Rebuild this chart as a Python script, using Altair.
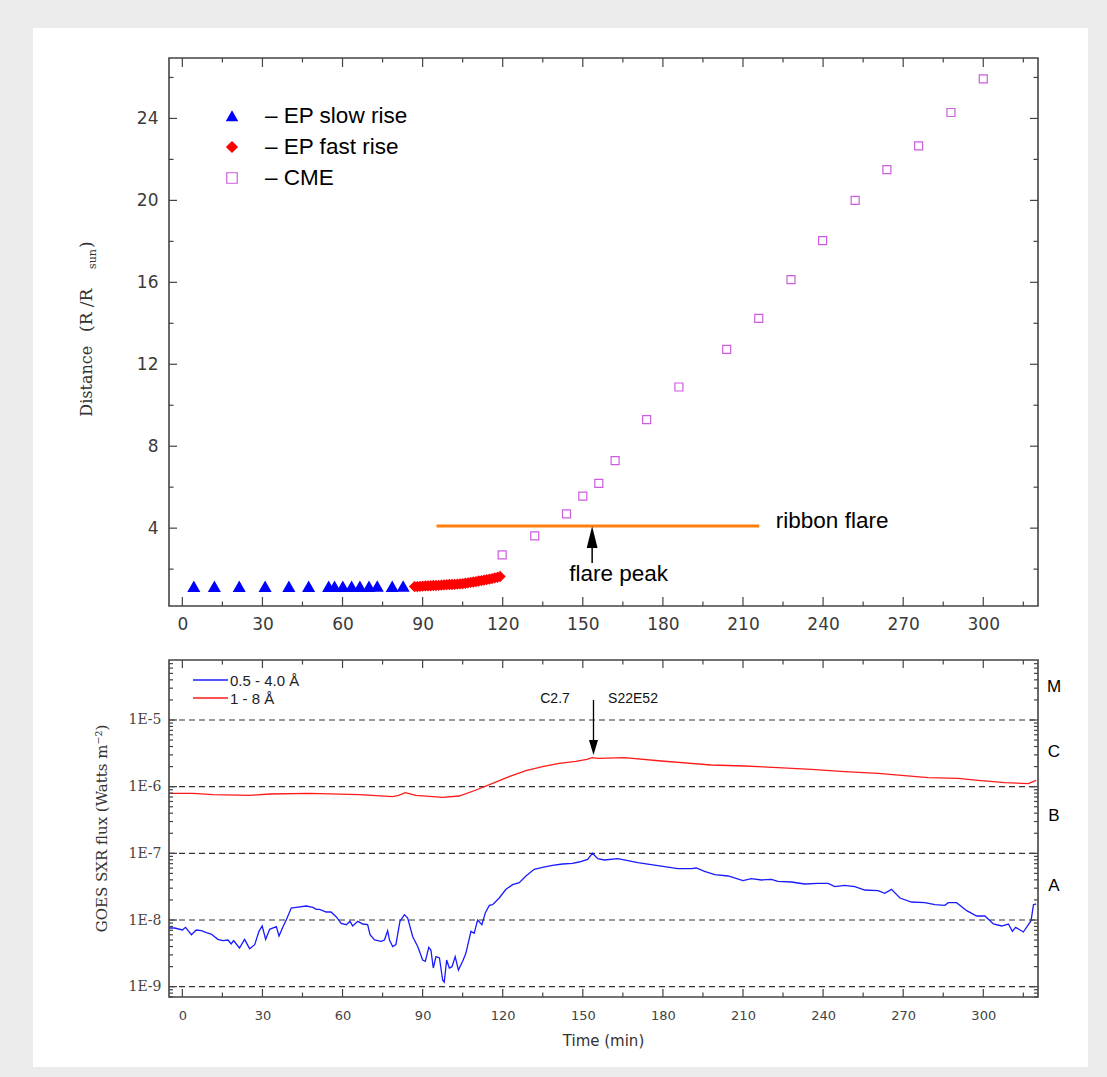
import altair as alt
import pandas as pd

# ---------------- Top panel values (time in min, distance in R/Rsun) ----------------
SERIES = ["EP slow rise", "EP fast rise", "CME"]
SLOW_T = [4.3, 12.0, 21.3, 31.0, 39.9, 47.3, 54.8, 57.0, 60.1, 63.4, 66.5, 69.9, 73.0, 78.6, 82.7]
SLOW_D = [1.15, 1.15, 1.15, 1.15, 1.15, 1.15, 1.15, 1.15, 1.15, 1.15, 1.15, 1.15, 1.16, 1.15, 1.16]
FAST_T = [87, 88, 89, 90, 91, 92, 93, 94, 95, 96, 97, 98, 99, 100, 101, 102, 103, 104, 105,
          106, 107, 108, 109, 110, 111, 112, 113, 114, 115, 116, 117, 118, 119]
FAST_D = [1.15, 1.15, 1.16, 1.17, 1.18, 1.18, 1.19, 1.20, 1.20, 1.21, 1.22, 1.23, 1.24, 1.25,
          1.25, 1.26, 1.27, 1.28, 1.29, 1.31, 1.33, 1.35, 1.37, 1.39, 1.42, 1.44, 1.46, 1.49,
          1.51, 1.54, 1.57, 1.60, 1.64]
CME_T = [119.8, 132.0, 143.9, 150.0, 156.0, 162.1, 173.9, 186.0, 203.9, 215.9, 228.0, 239.8,
         252.0, 263.9, 275.8, 287.9, 300.0]
CME_D = [2.70, 3.62, 4.70, 5.56, 6.19, 7.30, 9.30, 10.89, 12.73, 14.24, 16.13, 18.04, 20.00,
         21.50, 22.66, 24.29, 25.93]
RIBBON = {"t1": [95.2], "t2": [216.1], "d": [4.1]}
PEAK_T = 153.5
PEAK_SHAFT = [2.3, 3.04]
PEAK_HEAD = 3.56
TOP_TEXT = {"label": ["ribbon flare", "flare peak"], "t": [222.3, 163.4], "d": [4.0, 1.40],
            "align": ["left", "center"]}

# ---------------- Bottom panel values (time, log10 flux) ----------------
BLUE = [(-5.0, -8.12), (-2.9, -8.12), (0.0, -8.15), (1.2, -8.11), (3.4, -8.22), (5.2, -8.15),
        (7.1, -8.16), (9.0, -8.19), (10.8, -8.21), (13.3, -8.29), (15.2, -8.31), (17.1, -8.30),
        (18.3, -8.36), (19.2, -8.31), (21.4, -8.42), (23.3, -8.29), (25.2, -8.43), (27.1, -8.37),
        (28.7, -8.17), (29.9, -8.09), (31.2, -8.29), (32.7, -8.14), (35.2, -8.10), (36.2, -8.24),
        (37.7, -8.10), (38.9, -8.00), (40.8, -7.82), (42.6, -7.81), (46.4, -7.79), (48.9, -7.81),
        (50.1, -7.84), (51.4, -7.84), (53.9, -7.88), (55.7, -7.88), (57.6, -7.95), (59.5, -8.05),
        (61.4, -8.07), (62.8, -8.02), (63.8, -8.09), (65.7, -8.02), (67.6, -8.06), (69.4, -8.07),
        (70.3, -8.22), (72.0, -8.30), (74.4, -8.32), (75.7, -8.30), (76.9, -8.16), (77.6, -8.30),
        (78.8, -8.40), (80.0, -8.37), (81.5, -8.02), (83.2, -7.92), (84.4, -7.97), (86.3, -8.25),
        (88.2, -8.40), (90.0, -8.60), (91.0, -8.62), (92.3, -8.41), (93.1, -8.45), (94.0, -8.72),
        (95.0, -8.55), (96.3, -8.57), (97.5, -8.90), (98.1, -8.93), (99.0, -8.60), (100.0, -8.72),
        (101.0, -8.70), (102.2, -8.55), (103.4, -8.75), (105.0, -8.62), (106.2, -8.50),
        (108.1, -8.17), (109.3, -8.20), (110.6, -8.00), (112.2, -8.07), (113.5, -7.89),
        (115.0, -7.78), (116.2, -7.77), (118.7, -7.67), (121.2, -7.54), (123.7, -7.47),
        (126.2, -7.44), (128.7, -7.34), (131.8, -7.24), (134.9, -7.21), (138.6, -7.18),
        (142.4, -7.16), (146.1, -7.15), (148.6, -7.13), (151.8, -7.09), (153.6, -7.00),
        (155.6, -7.08), (158.1, -7.10), (163.1, -7.08), (166.9, -7.11), (170.6, -7.14),
        (175.6, -7.17), (180.6, -7.20), (185.6, -7.23), (190.6, -7.23), (192.5, -7.22),
        (195.6, -7.27), (199.4, -7.32), (204.4, -7.34), (210.0, -7.41), (213.1, -7.38),
        (216.9, -7.40), (220.6, -7.39), (223.1, -7.42), (228.1, -7.43), (233.1, -7.46),
        (238.1, -7.45), (241.9, -7.45), (244.4, -7.50), (248.1, -7.48), (251.9, -7.50),
        (255.6, -7.55), (260.6, -7.56), (263.1, -7.60), (265.6, -7.54), (268.8, -7.67),
        (273.1, -7.73), (278.1, -7.74), (281.9, -7.77), (285.6, -7.78), (286.9, -7.74),
        (290.0, -7.74), (293.8, -7.86), (297.5, -7.94), (300.6, -7.94), (303.8, -8.06),
        (306.9, -8.09), (309.4, -8.06), (310.9, -8.17), (312.1, -8.11), (315.0, -8.18),
        (316.9, -8.07), (317.9, -8.01), (318.8, -7.77), (319.8, -7.76)]
RED = [(-5.0, -6.10), (4.0, -6.10), (11.5, -6.12), (25.2, -6.13), (32.7, -6.11), (47.6, -6.10),
       (66.3, -6.12), (78.8, -6.15), (81.0, -6.13), (83.5, -6.09), (87.5, -6.13), (97.5, -6.16),
       (103.7, -6.14), (110.0, -6.05), (116.2, -5.95), (122.4, -5.85), (128.7, -5.76),
       (134.9, -5.70), (141.1, -5.65), (147.4, -5.62), (151.5, -5.59), (153.6, -5.565),
       (155.6, -5.575), (165.6, -5.565), (179.4, -5.615), (198.1, -5.675), (210.6, -5.69),
       (223.1, -5.715), (235.6, -5.74), (248.1, -5.775), (260.6, -5.80), (269.4, -5.83),
       (279.4, -5.865), (290.6, -5.875), (298.1, -5.905), (308.1, -5.94), (316.9, -5.955),
       (319.8, -5.905)]
BANDS = ["0.5 - 4.0 \u00c5", "1 - 8 \u00c5"]
DECADES = [1e-9, 1e-8, 1e-7, 1e-6, 1e-5]
CLASSES = {"label": ["M", "C", "B", "A"], "f": [2.63e-5, 2.82e-6, 3.09e-7, 2.75e-8]}
BOT_TEXT = {"label": ["C2.7", "S22E52"], "t": [139.6, 168.8], "f": [1.78e-5, 1.78e-5]}
FLARE_T = 154.0
FLARE_SHAFT = [2.0e-5, 5.0e-6]
FLARE_HEAD = 3.87e-6

X_LABELS = [0, 30, 60, 90, 120, 150, 180, 210, 240, 270, 300]
X_MINOR = [15, 45, 75, 105, 135, 165, 195, 225, 255, 285, 315]
Y1_LABELS = [4, 8, 12, 16, 20, 24]
Y1_MINOR = [2, 6, 10, 14, 18, 22, 26]
LOG_MULT = [2, 3, 4, 5, 6, 7, 8, 9]
LOG_DEC = [1e-10, 1e-9, 1e-8, 1e-7, 1e-6, 1e-5]

# ---------------- styles ----------------
SHAPES = ["triangle-up", "diamond", "square"]
FILLS = ["#0000ff", "#ff0000", "transparent"]
STROKES = ["#0000ff", "#ff0000", "#cc5ddf"]
SIZES = [121, 64, 100]
LINE_COLORS = ["#1a1aff", "#ff1a1a"]

# ---------------- layout ----------------
W, H1, H2 = 869, 548, 337
TICK = "#444444"
ONE = pd.DataFrame({"k": [0]})
X_DOMAIN = [-5, 320.5]

xs1 = alt.Scale(domain=X_DOMAIN, nice=False, zero=False)
ys1 = alt.Scale(domain=[0.2, 26.95], nice=False, zero=False)
xs2 = alt.Scale(domain=X_DOMAIN, nice=False, zero=False)
ys2 = alt.Scale(type="log", domain=[7.0e-10, 7.94e-5], nice=False)

ax1x = alt.Axis(values=X_LABELS, title="", ticks=False, domain=False, grid=False,
                labelFont="DejaVu Sans", labelFontSize=17, labelColor="#3a3a3a",
                labelPadding=10, labelFlush=False, labelOverlap=False, zindex=1)
ax1y = alt.Axis(values=Y1_LABELS, title="", ticks=False, domain=False, grid=False,
                labelFont="DejaVu Sans", labelFontSize=17, labelColor="#3a3a3a",
                labelPadding=11, labelFlush=False, labelOverlap=False, zindex=1)
ax2x = alt.Axis(values=X_LABELS, title="", ticks=False, domain=False, grid=False,
                labelFont="DejaVu Sans", labelFontSize=13, labelColor="#444444",
                labelPadding=12, labelFlush=False, labelOverlap=False, zindex=1)
ax2y = alt.Axis(values=DECADES, title="", ticks=False, domain=False, grid=False,
                labelExpr="'1E-' + round(-log(datum.value)/LN10)",
                labelFont="DejaVu Serif", labelFontSize=14, labelColor="#444444",
                labelPadding=8, labelFlush=False, labelOverlap=False, zindex=1)


def xticks(vals, xs, ax, H, length, top):
    y0, y1 = (0, length) if top else (H, H - length)
    return alt.Chart(pd.DataFrame({"v": vals})).mark_rule(color=TICK, strokeWidth=1.2).encode(
        x=alt.X("v:Q", scale=xs, axis=ax), y=alt.value(y0), y2=alt.value(y1))


def yticks(vals, ys, ax, length, right):
    x0, x1 = (W, W - length) if right else (0, length)
    return alt.Chart(pd.DataFrame({"v": vals})).mark_rule(color=TICK, strokeWidth=1.2).encode(
        y=alt.Y("v:Q", scale=ys, axis=ax), x=alt.value(x0), x2=alt.value(x1))


def ptext(txt, x, y, **kw):
    return alt.Chart(ONE).mark_text(text=txt, **kw).encode(x=alt.value(x), y=alt.value(y))


def psym(x, y, **kw):
    return alt.Chart(ONE).mark_point(opacity=1, **kw).encode(x=alt.value(x), y=alt.value(y))


def frame(H):
    return alt.Chart(ONE).mark_rect(fill="transparent", stroke="#444444", strokeWidth=1.6).encode(
        x=alt.value(0), x2=alt.value(W), y=alt.value(0), y2=alt.value(H))


# ---------------- top panel ----------------
card = alt.Chart(ONE).mark_rect(color="white").encode(
    x=alt.value(-136), x2=alt.value(919), y=alt.value(-30), y2=alt.value(1009))

pts = pd.DataFrame({
    "t": SLOW_T + FAST_T + CME_T,
    "d": SLOW_D + FAST_D + CME_D,
    "series": [SERIES[0]] * len(SLOW_T) + [SERIES[1]] * len(FAST_T) + [SERIES[2]] * len(CME_T),
})

points = alt.Chart(pts).mark_point(filled=True, opacity=1, strokeWidth=1.2).encode(
    x=alt.X("t:Q", scale=xs1, axis=ax1x),
    y=alt.Y("d:Q", scale=ys1, axis=ax1y),
    shape=alt.Shape("series:N", scale=alt.Scale(domain=SERIES, range=SHAPES), legend=None),
    fill=alt.Fill("series:N", scale=alt.Scale(domain=SERIES, range=FILLS), legend=None),
    stroke=alt.Stroke("series:N", scale=alt.Scale(domain=SERIES, range=STROKES), legend=None),
    size=alt.Size("series:N", scale=alt.Scale(domain=SERIES, range=SIZES), legend=None),
)

# legend (top-left inside the plot)
LEG_ROWS = [58, 89, 120]
legend1 = []
for i, name in enumerate(SERIES):
    legend1.append(psym(63, LEG_ROWS[i], shape=SHAPES[i], filled=True, fill=FILLS[i],
                        stroke=STROKES[i], strokeWidth=1.2, size=110))
    legend1.append(ptext("\u2013 " + name, 96, LEG_ROWS[i], align="left", baseline="middle",
                         font="Liberation Sans", fontSize=22.5, color="black"))

ribbon = alt.Chart(pd.DataFrame(RIBBON)).mark_rule(color="#ff7f0e", strokeWidth=3).encode(
    x=alt.X("t1:Q", scale=xs1, axis=ax1x), x2="t2:Q", y=alt.Y("d:Q", scale=ys1, axis=ax1y))

shaft1 = alt.Chart(pd.DataFrame({"t": [PEAK_T], "a": [PEAK_SHAFT[0]], "b": [PEAK_SHAFT[1]]})).mark_rule(
    color="black", strokeWidth=1.5).encode(
    x=alt.X("t:Q", scale=xs1, axis=ax1x), y=alt.Y("a:Q", scale=ys1, axis=ax1y), y2="b:Q")
head1 = alt.Chart(pd.DataFrame({"t": [PEAK_T], "d": [PEAK_HEAD]})).mark_point(
    shape="M0,-1L0.5,1L-0.5,1Z", filled=True, color="black", opacity=1, size=471).encode(
    x=alt.X("t:Q", scale=xs1, axis=ax1x), y=alt.Y("d:Q", scale=ys1, axis=ax1y))

tdf = pd.DataFrame(TOP_TEXT)
ann1 = alt.layer(*[
    alt.Chart(tdf[tdf["align"] == a]).mark_text(align=a, baseline="alphabetic", font="Liberation Sans",
                                                 fontSize=22.5, color="black").encode(
        x=alt.X("t:Q", scale=xs1, axis=ax1x), y=alt.Y("d:Q", scale=ys1, axis=ax1y), text="label:N")
    for a in ["left", "center"]])

ticks1 = [
    xticks(X_LABELS, xs1, ax1x, H1, 9, False), xticks(X_MINOR, xs1, ax1x, H1, 4.5, False),
    xticks(X_LABELS, xs1, ax1x, H1, 9, True), xticks(X_MINOR, xs1, ax1x, H1, 4.5, True),
    yticks(Y1_LABELS, ys1, ax1y, 8, False), yticks(Y1_MINOR, ys1, ax1y, 4.5, False),
    yticks(Y1_LABELS, ys1, ax1y, 8, True), yticks(Y1_MINOR, ys1, ax1y, 4.5, True),
]

ytitle1 = [
    ptext("Distance", -82, 358.7, angle=270, align="left", baseline="middle",
          font="DejaVu Serif", fontSize=16, color="#333333"),
    ptext("(R /R", -82, 274, angle=270, align="left", baseline="middle",
          font="DejaVu Serif", fontSize=17, color="#333333"),
    ptext("sun", -76, 211, angle=270, align="left", baseline="middle",
          font="DejaVu Serif", fontSize=11, color="#333333"),
    ptext(")", -82, 190, angle=270, align="left", baseline="middle",
          font="DejaVu Serif", fontSize=17, color="#333333"),
]

top = alt.layer(card, ribbon, points, shaft1, head1, ann1, *ticks1, frame(H1), *legend1,
                *ytitle1).properties(width=W, height=H1)

# ---------------- bottom panel ----------------
lines_df = pd.DataFrame(
    [{"t": t, "f": 10 ** v, "band": BANDS[0]} for t, v in BLUE]
    + [{"t": t, "f": 10 ** v, "band": BANDS[1]} for t, v in RED])

grid = alt.Chart(pd.DataFrame({"f": DECADES})).mark_rule(
    color="#333333", strokeWidth=1.2, strokeDash=[6, 4]).encode(
    y=alt.Y("f:Q", scale=ys2, axis=ax2y), x=alt.value(0), x2=alt.value(W))

lines = alt.Chart(lines_df).mark_line(strokeWidth=1.3).encode(
    x=alt.X("t:Q", scale=xs2, axis=ax2x),
    y=alt.Y("f:Q", scale=ys2, axis=ax2y),
    color=alt.Color("band:N", scale=alt.Scale(domain=BANDS, range=LINE_COLORS), legend=None),
)

LEG2_ROWS = [20, 38]
legend2 = []
for i, name in enumerate(BANDS):
    legend2.append(alt.Chart(ONE).mark_rule(color=LINE_COLORS[i], strokeWidth=1.5).encode(
        x=alt.value(24), x2=alt.value(59), y=alt.value(LEG2_ROWS[i])))
    legend2.append(ptext(name, 61, LEG2_ROWS[i] + 1, align="left", baseline="middle",
                         font="Liberation Sans", fontSize=15, color="#222222"))

shaft2 = alt.Chart(pd.DataFrame({"t": [FLARE_T], "a": [FLARE_SHAFT[0]], "b": [FLARE_SHAFT[1]]})).mark_rule(
    color="black", strokeWidth=1.3).encode(
    x=alt.X("t:Q", scale=xs2, axis=ax2x), y=alt.Y("a:Q", scale=ys2, axis=ax2y), y2="b:Q")
head2 = alt.Chart(pd.DataFrame({"t": [FLARE_T], "f": [FLARE_HEAD]})).mark_point(
    shape="M0,1L0.6,-1L-0.6,-1Z", filled=True, color="black", opacity=1, size=225).encode(
    x=alt.X("t:Q", scale=xs2, axis=ax2x), y=alt.Y("f:Q", scale=ys2, axis=ax2y))

ann2 = alt.Chart(pd.DataFrame(BOT_TEXT)).mark_text(
    align="center", baseline="alphabetic", font="Liberation Sans", fontSize=14, color="#111111").encode(
    x=alt.X("t:Q", scale=xs2, axis=ax2x), y=alt.Y("f:Q", scale=ys2, axis=ax2y), text="label:N")

classes = alt.Chart(pd.DataFrame(CLASSES)).mark_text(
    align="center", baseline="alphabetic", font="Liberation Sans", fontSize=17, color="black").encode(
    x=alt.value(W + 16), y=alt.Y("f:Q", scale=ys2, axis=ax2y), text="label:N")

LOG_MINOR = [m * d for d in LOG_DEC for m in LOG_MULT if 7.0e-10 <= m * d <= 7.94e-5]
ticks2 = [
    xticks(X_LABELS, xs2, ax2x, H2, 8, False), xticks(X_MINOR, xs2, ax2x, H2, 4.5, False),
    xticks(X_LABELS, xs2, ax2x, H2, 8, True), xticks(X_MINOR, xs2, ax2x, H2, 4.5, True),
    yticks(DECADES, ys2, ax2y, 8, False), yticks(LOG_MINOR, ys2, ax2y, 4, False),
    yticks(DECADES, ys2, ax2y, 8, True), yticks(LOG_MINOR, ys2, ax2y, 4, True),
]

titles2 = [
    ptext("GOES SXR flux (Watts m\u207b\u00b2)", -67, H2 / 2, angle=270, align="center",
          baseline="middle", font="DejaVu Serif", fontSize=15, color="#333333"),
    ptext("Time (min)", W / 2, 381, align="center", baseline="middle",
          font="DejaVu Sans", fontSize=15, color="#333333"),
]

bottom = alt.layer(grid, lines, shaft2, head2, ann2, classes, *ticks2, frame(H2), *legend2,
                   *titles2).properties(width=W, height=H2)

chart = alt.vconcat(top, bottom, spacing=54, bounds="flush").resolve_scale(
    x="independent", y="independent", color="independent", fill="independent",
    stroke="independent", shape="independent", size="independent",
).properties(
    padding={"left": 33, "top": 28, "right": 19, "bottom": 10},
    background="#ebebeb",
).configure_view(strokeWidth=0)

chart.save("out.html", embed_options={"renderer": "svg", "actions": False})
